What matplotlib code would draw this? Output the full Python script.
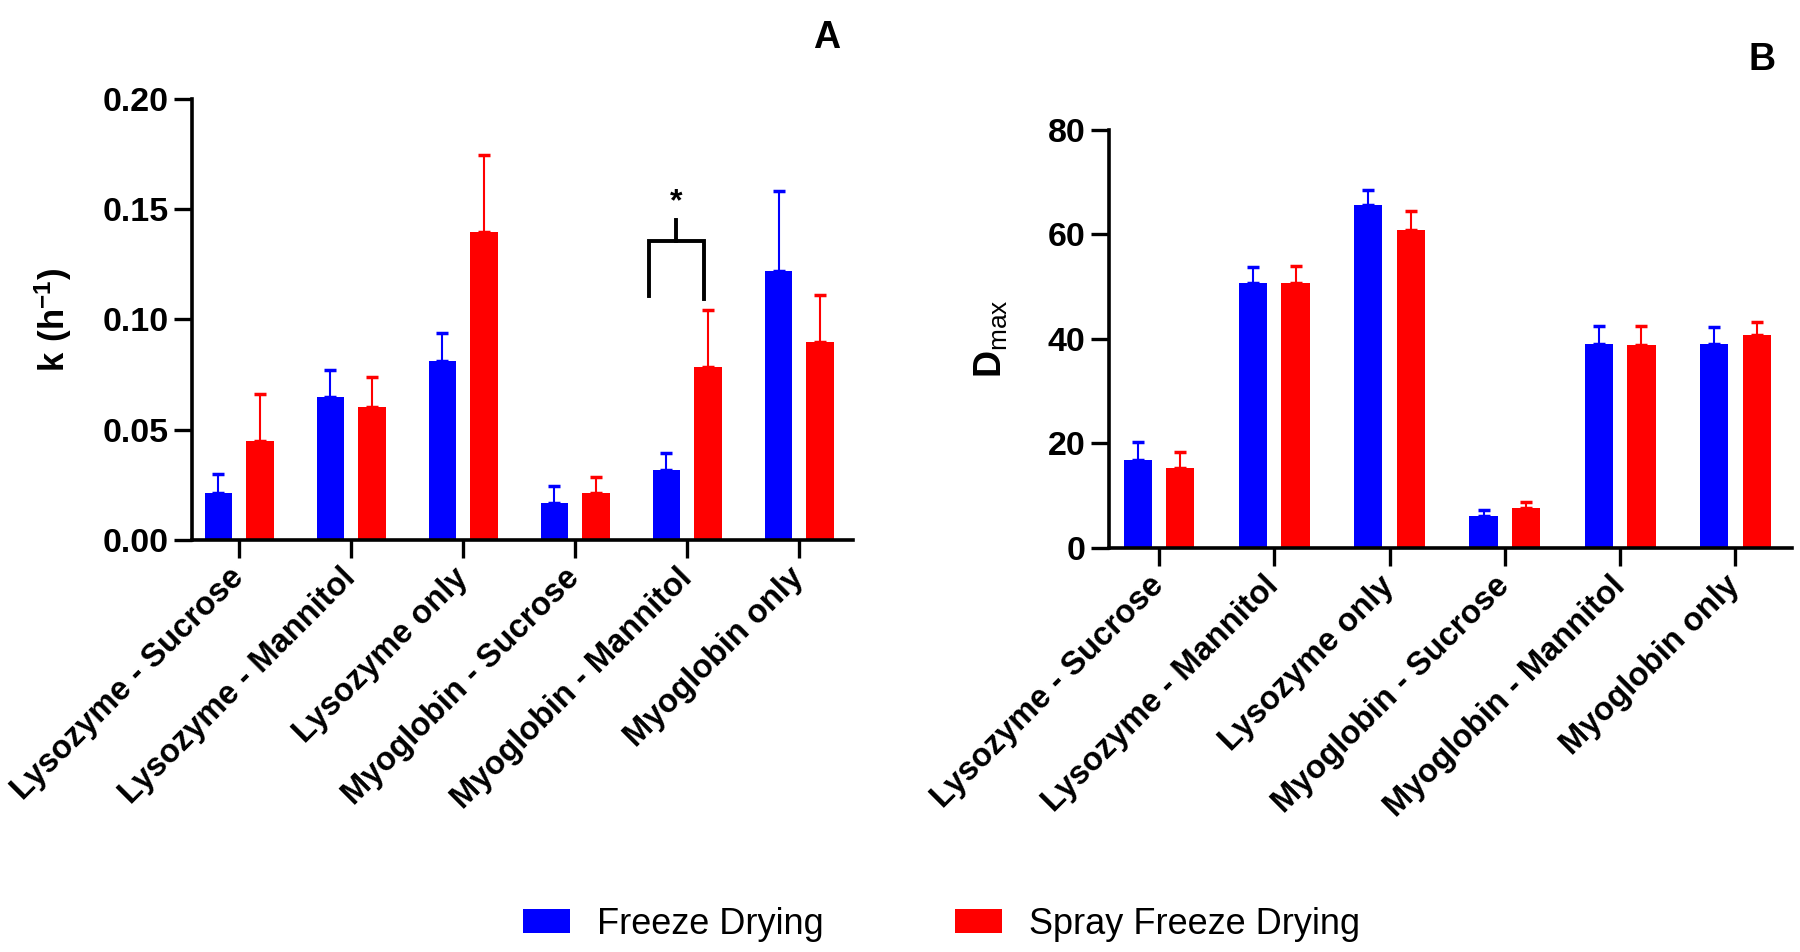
import numpy as np
import matplotlib
matplotlib.use("Agg")
import matplotlib.pyplot as plt
from matplotlib.patches import Patch

plt.rcParams["font.family"] = ["Liberation Sans", "DejaVu Sans"]
plt.rcParams["mathtext.fontset"] = "custom"
plt.rcParams["mathtext.rm"] = "Liberation Sans"
plt.rcParams["mathtext.bf"] = "Liberation Sans:bold"

# data
categories = ["Lysozyme - Sucrose", "Lysozyme - Mannitol", "Lysozyme only",
              "Myoglobin - Sucrose", "Myoglobin - Mannitol", "Myoglobin only"]
series = ["Freeze Drying", "Spray Freeze Drying"]

k_fd = [0.0212, 0.0647, 0.0811, 0.0166, 0.0318, 0.1221]
k_fd_err = [0.0089, 0.0122, 0.0129, 0.0078, 0.0076, 0.0362]
k_sfd = [0.0448, 0.0603, 0.1397, 0.0215, 0.0785, 0.0896]
k_sfd_err = [0.0212, 0.0138, 0.0351, 0.0070, 0.0257, 0.0214]

dmax_fd = [16.8, 50.8, 65.7, 6.1, 39.1, 39.1]
dmax_fd_err = [3.4, 3.0, 2.8, 1.2, 3.4, 3.1]
dmax_sfd = [15.4, 50.8, 60.8, 7.6, 38.9, 40.7]
dmax_sfd_err = [2.9, 3.2, 3.7, 1.2, 3.6, 2.5]

k_ticks = [0.0, 0.05, 0.10, 0.15, 0.20]
dmax_ticks = [0, 20, 40, 60, 80]

colors = ["#0000FF", "#FF0000"]
width = 0.245
offset = 0.185

fig = plt.figure(figsize=(18, 9.52), dpi=100)
axA = fig.add_axes([0.1067, 0.4328, 0.3672, 0.4632])
axB = fig.add_axes([0.6161, 0.4244, 0.3794, 0.4391])


def draw_panel(ax, fd, fd_err, sfd, sfd_err, ticks, fmt, xlim):
    x = np.arange(len(categories))
    for vals, errs, col, sgn in [(fd, fd_err, colors[0], -1), (sfd, sfd_err, colors[1], 1)]:
        xs = x + sgn * offset
        ax.bar(xs, vals, width=width, color=col, zorder=2)
        ax.errorbar(xs, vals, yerr=[np.zeros(len(vals)), errs], fmt="none",
                    ecolor=col, elinewidth=1.5, capsize=4, capthick=2.5, zorder=1)
    ax.set_xlim(*xlim)
    ax.set_ylim(ticks[0], ticks[-1])
    ax.set_yticks(ticks)
    ax.set_yticklabels([fmt.format(t) for t in ticks], fontsize=24.5, fontweight="bold")
    ax.set_xticks(x)
    ax.set_xticklabels(categories, rotation=45, ha="right", va="center",
                       rotation_mode="anchor", fontsize=23.5, fontweight="bold")
    for s in ["top", "right"]:
        ax.spines[s].set_visible(False)
    for s in ["left", "bottom"]:
        ax.spines[s].set_linewidth(2.6)
    ax.tick_params(axis="both", direction="out", length=13, width=2.4, pad=4)
    ax.tick_params(axis="x", pad=11)


draw_panel(axA, k_fd, k_fd_err, k_sfd, k_sfd_err, k_ticks, "{:.2f}", (-0.42, 5.48))
draw_panel(axB, dmax_fd, dmax_fd_err, dmax_sfd, dmax_sfd_err, dmax_ticks, "{:.0f}", (-0.434, 5.49))

axA.set_ylabel(r"$\mathbf{k\ (h^{-1})}$", fontsize=25)
axA.yaxis.set_label_coords(-0.178, 0.5)
axB.set_ylabel(r"$\mathbf{D}_{\mathrm{max}}$", fontsize=27)
axB.yaxis.set_label_coords(-0.145, 0.5)

# significance bracket between the two Myoglobin - Mannitol bars
bx0, bx1, bxm = 3.656, 4.147, 3.90
axA.plot([bx0, bx0, bx1, bx1], [0.1107, 0.1355, 0.1355, 0.1094], color="black",
         lw=2.8, clip_on=False, solid_joinstyle="miter")
axA.plot([bxm, bxm], [0.1355, 0.145], color="black", lw=2.8, clip_on=False)
axA.text(bxm, 0.1465, "*", ha="center", va="bottom", fontsize=23, fontweight="bold")

fig.text(0.459, 0.96, "A", fontsize=27, fontweight="bold", ha="center", va="center")
fig.text(0.979, 0.937, "B", fontsize=27, fontweight="bold", ha="center", va="center")

handles = [Patch(facecolor=c, edgecolor="none") for c in colors]
fig.legend(handles, series, loc="center", bbox_to_anchor=(0.523, 0.029), ncol=2,
           frameon=False, fontsize=26, handlelength=1.3, handleheight=0.64,
           handletextpad=0.75, columnspacing=3.65)

fig.savefig("out.png", dpi=100)
